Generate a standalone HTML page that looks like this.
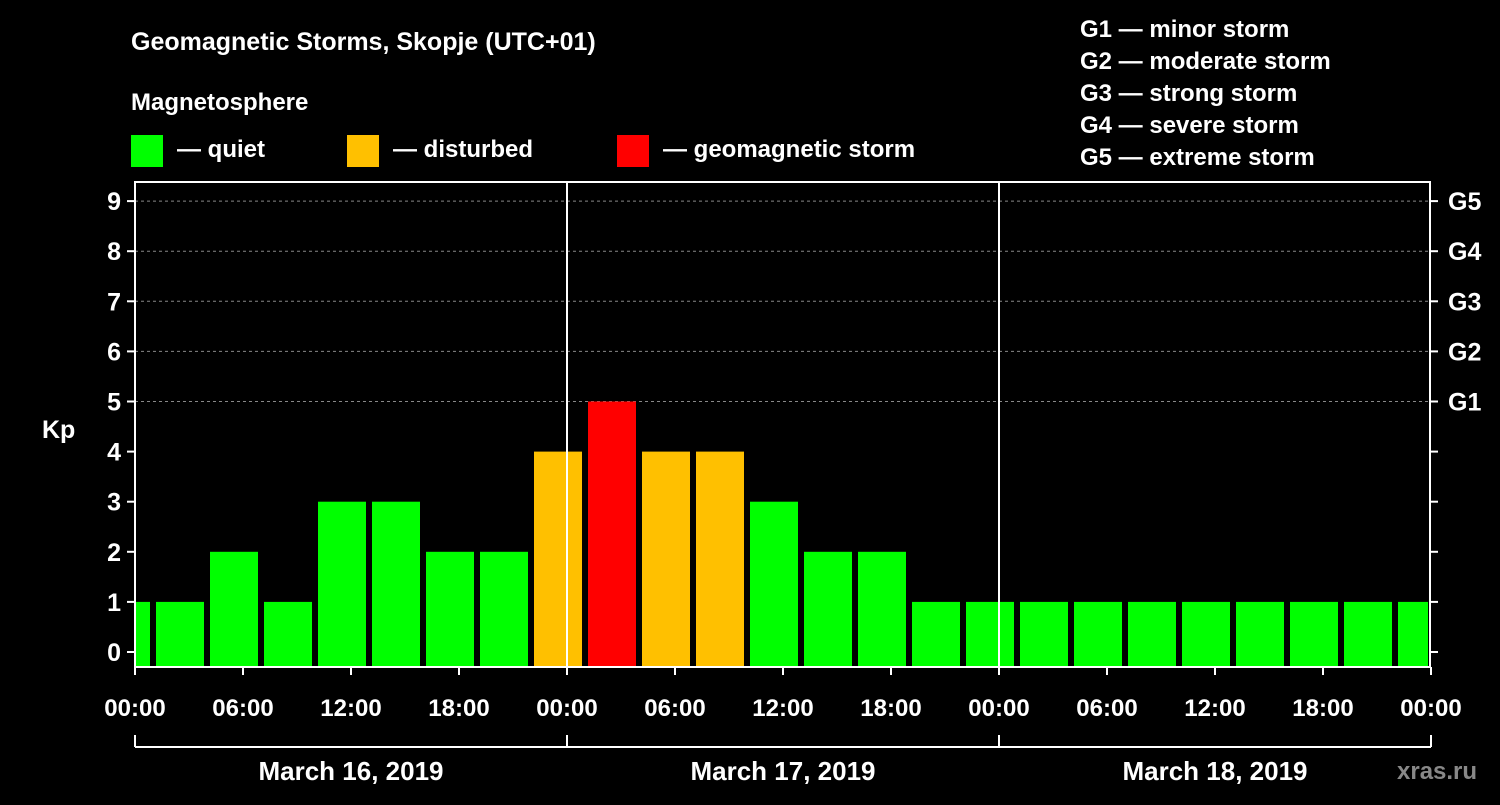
<!DOCTYPE html>
<html><head><meta charset="utf-8"><style>
body{margin:0;background:#000;}
svg text{font-family:"Liberation Sans",sans-serif;font-weight:bold;fill:#fff;}
</style></head><body>
<svg width="1500" height="800" xmlns="http://www.w3.org/2000/svg">
<text x="131" y="50" font-size="25">Geomagnetic Storms, Skopje (UTC+01)</text>
<text x="131" y="110" font-size="24">Magnetosphere</text>
<rect x="131" y="135" width="32" height="32" fill="#00ff00"/>
<text x="177" y="157" font-size="24">— quiet</text>
<rect x="347" y="135" width="32" height="32" fill="#ffc000"/>
<text x="393" y="157" font-size="24">— disturbed</text>
<rect x="617" y="135" width="32" height="32" fill="#ff0000"/>
<text x="663" y="157" font-size="24">— geomagnetic storm</text>
<g font-size="24">
<text x="1080" y="37">G1 — minor storm</text>
<text x="1080" y="69">G2 — moderate storm</text>
<text x="1080" y="101">G3 — strong storm</text>
<text x="1080" y="133">G4 — severe storm</text>
<text x="1080" y="165">G5 — extreme storm</text>
</g>
<text x="42" y="438" font-size="25">Kp</text>
<text x="1397" y="779" font-size="24" fill="#888" style="fill:#888">xras.ru</text>
<g id="plot"></g>
</svg>
<script>
const kpValues=[1,1,2,1,3,3,2,2,4,5,4,4,3,2,2,1,1,1,1,1,1,1,1,1,1];
const barStartHours=[-2,1,4,7,10,13,16,19,22,25,28,31,34,37,40,43,46,49,52,55,58,61,64,67,70];
const yTicks=[0,1,2,3,4,5,6,7,8,9];
const gLabels=["","","","","","G1","G2","G3","G4","G5"];
const xTickLabels=["00:00","06:00","12:00","18:00","00:00","06:00","12:00","18:00","00:00","06:00","12:00","18:00","00:00"];
const dayLabels=["March 16, 2019","March 17, 2019","March 18, 2019"];
const NS="http://www.w3.org/2000/svg";
const L=135,R=1430,T=182,B=667;
const x=h=>135+h*18;
const y=v=>652-v*50.1;
const g=document.getElementById('plot');
function mk(t,a){const e=document.createElementNS(NS,t);for(const k in a)e.setAttribute(k,a[k]);g.appendChild(e);return e;}
// grid
yTicks.forEach((v,i)=>{
  if(v>=5){const l=mk('line',{x1:L,x2:R,y1:y(v),y2:y(v),stroke:'#888','stroke-dasharray':'3,3'});
  
  }
});
// bars
kpValues.forEach((v,i)=>{
  let x0=Math.max(L,x(barStartHours[i])+3),x1=Math.min(R-2,x(barStartHours[i]+3)-3);
  const c=v>=5?'#ff0000':(v>=4?'#ffc000':'#00ff00');
  const r=mk('rect',{x:x0,y:y(v),width:x1-x0,height:B-y(v),fill:c});
  
  
});
// day separators
[24,48].forEach(h=>{const l=mk('line',{x1:x(h),x2:x(h),y1:T,y2:B,stroke:'#fff','stroke-width':2});

});
const fr=mk('rect',{x:L,y:T,width:R-L,height:B-T,fill:'none',stroke:'#fff','stroke-width':2});


// y ticks
yTicks.forEach((v,i)=>{
  mk('line',{x1:L-8,x2:L,y1:y(v),y2:y(v),stroke:'#fff','stroke-width':2});
  mk('line',{x1:R,x2:R+8,y1:y(v),y2:y(v),stroke:'#fff','stroke-width':2});
  const t=mk('text',{x:L-14,y:y(v)+9,'font-size':25,'text-anchor':'end'});t.textContent=v;
  
  
  if(gLabels[i]){const t2=mk('text',{x:R+18,y:y(v)+9,'font-size':25});t2.textContent=gLabels[i];
  
  }
});
// x ticks
xTickLabels.forEach((s,i)=>{
  const h=i*6;
  mk('line',{x1:x(h),x2:x(h),y1:B,y2:B+8,stroke:'#fff','stroke-width':2});
  const t=mk('text',{x:x(h),y:716,'font-size':24,'text-anchor':'middle'});t.textContent=s;
  
  
});
mk('line',{x1:L,x2:x(72),y1:747,y2:747,stroke:'#fff','stroke-width':2});
[0,24,48,72].forEach(h=>mk('line',{x1:x(h),x2:x(h),y1:735,y2:747,stroke:'#fff','stroke-width':2}));
dayLabels.forEach((s,i)=>{
  const t=mk('text',{x:x(i*24+12),y:780,'font-size':26,'text-anchor':'middle'});t.textContent=s;
  
  
});
</script>
</body></html>
